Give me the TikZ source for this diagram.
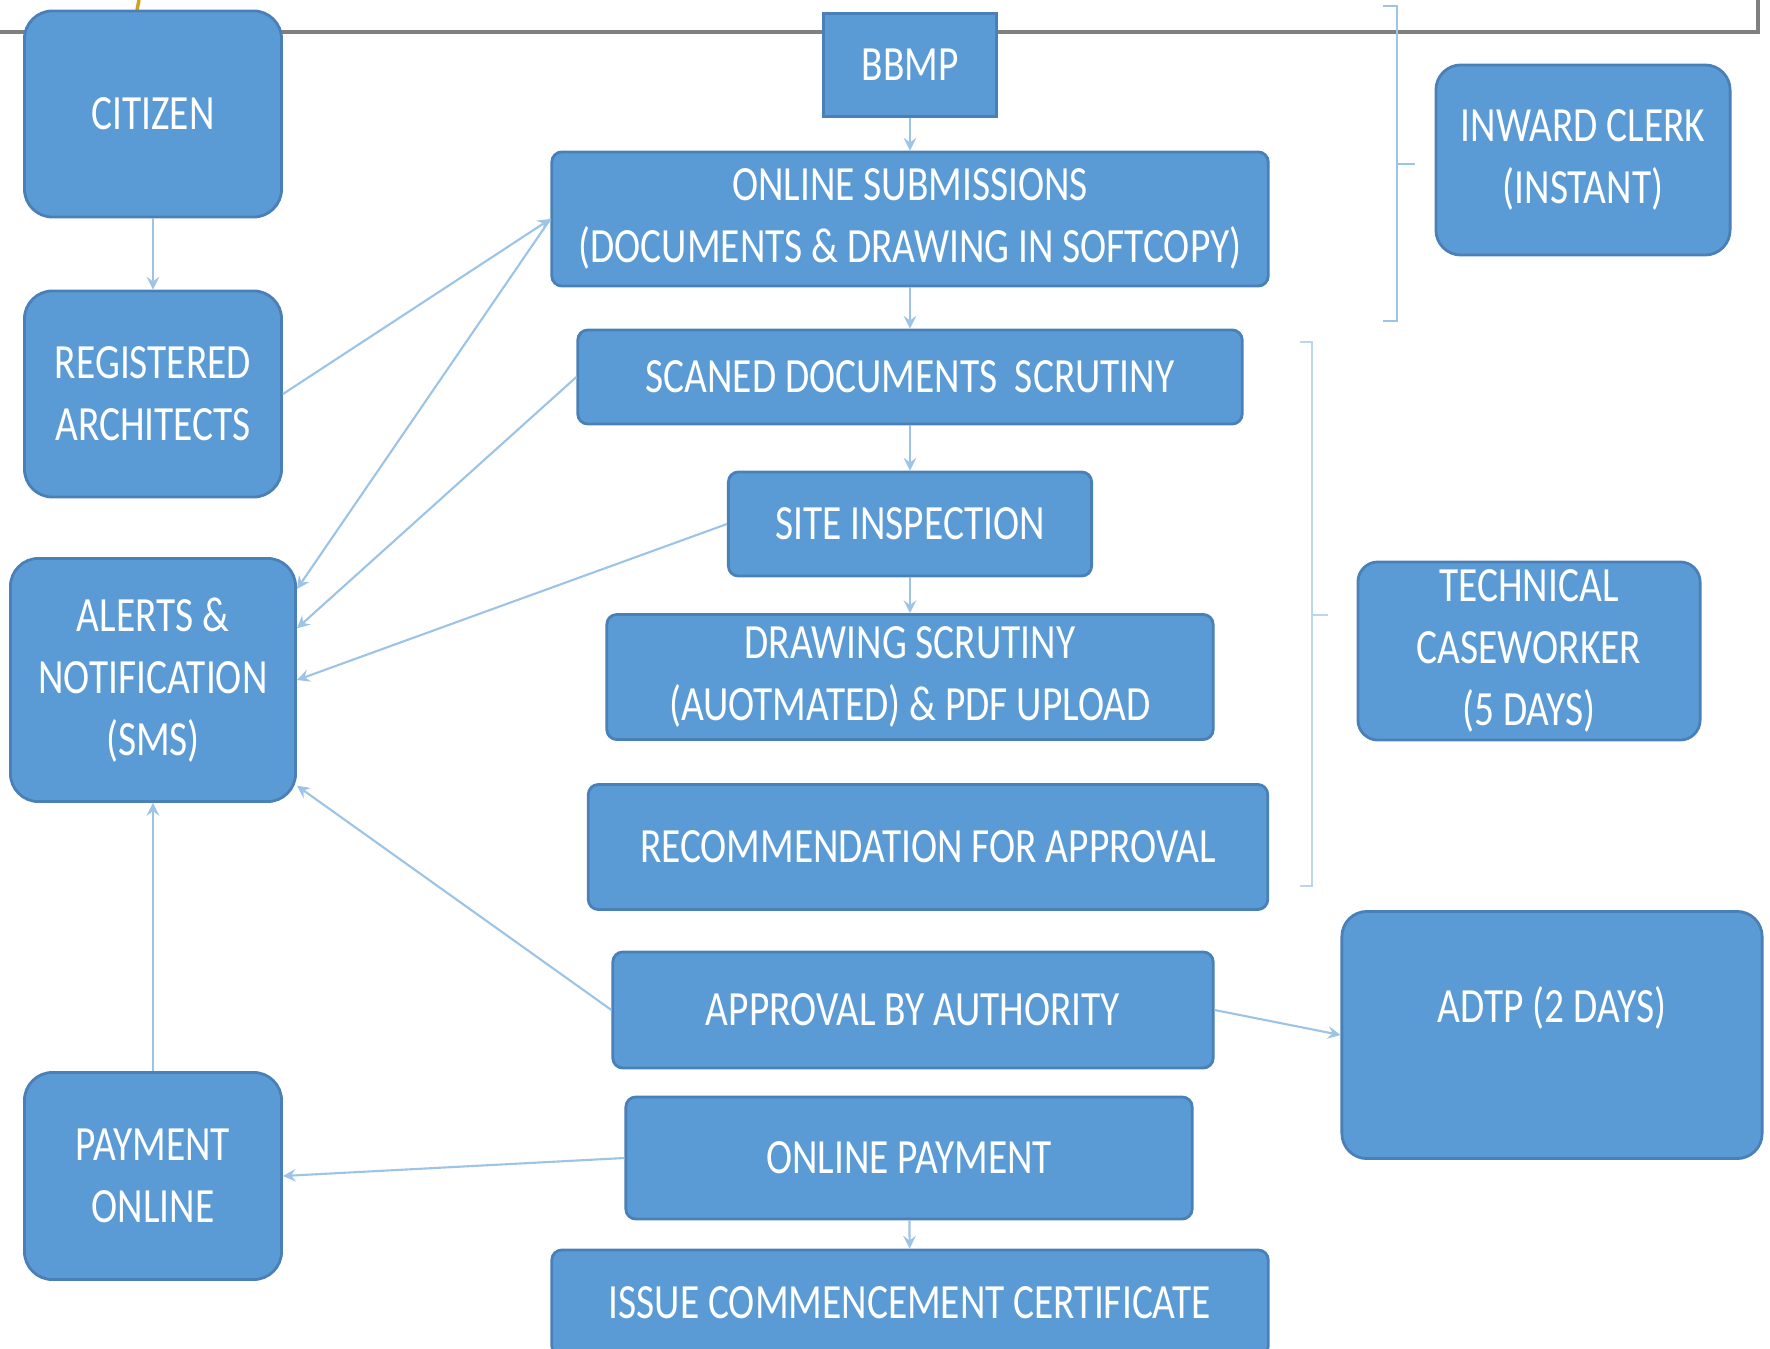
\documentclass[tikz,border=0pt]{standalone}
\usepackage{fontspec}
\usepackage{tikz}
\usetikzlibrary{arrows,shapes,calc}
\newfontfamily\boxfont[FakeStretch=0.8]{Carlito}
\definecolor{boxblue}{HTML}{5B9BD5}
\definecolor{boxline}{HTML}{4A80B8}
\definecolor{linkblue}{HTML}{9DC3E6}
\definecolor{framegray}{HTML}{7F7F7F}
\definecolor{tickgold}{HTML}{D4A020}
\tikzstyle{blk}=[rectangle,fill=boxblue,draw=boxline,line width=0.8pt,text=white,
                align=center,inner sep=0,font=\boxfont\fontsize{14}{17.6}\selectfont]
\tikzstyle{side}=[blk,rounded corners=0.28cm]
\tikzstyle{step box}=[blk,rounded corners=0.1cm]
\tikzstyle{lnk}=[draw=linkblue,line width=0.6pt,->,>=stealth]
\tikzstyle{brace}=[draw=linkblue,line width=0.7pt]

\begin{document}
\begin{tikzpicture}[x=0.01cm,y=-0.01cm]
\useasboundingbox (0,0) rectangle (1770,1349);
\draw[framegray,line width=1pt](0,32)--(1758,32)--(1758,0);
\draw[tickgold,line width=1pt](139,0)--(137,10);

\node[side,minimum width=2.57cm,minimum height=2.06cm] (citizen) at (153,114) {CITIZEN};
\node[side,minimum width=2.57cm,minimum height=2.06cm] (regarch) at (153,394) {REGISTERED\\ARCHITECTS};
\node[side,minimum width=2.85cm,minimum height=2.43cm] (alerts) at (153,680) {ALERTS \&\\NOTIFICATION\\(SMS)};
\node[side,minimum width=2.57cm,minimum height=2.07cm] (payonl) at (153,1176) {PAYMENT\\ONLINE};

\node[blk,minimum width=1.73cm,minimum height=1.03cm] (bbmp) at (910,65) {BBMP};
\node[step box,minimum width=7.16cm,minimum height=1.34cm] (onsub) at (910,219) {ONLINE SUBMISSIONS\\(DOCUMENTS \& DRAWING IN SOFTCOPY)};
\node[step box,minimum width=6.64cm,minimum height=0.94cm] (scan) at (910,377) {SCANED DOCUMENTS \ SCRUTINY};
\node[step box,minimum width=3.63cm,minimum height=1.04cm] (site) at (910,524) {SITE INSPECTION};
\node[step box,minimum width=6.06cm,minimum height=1.25cm] (drw) at (910,677) {DRAWING SCRUTINY\\(AUOTMATED) \& PDF UPLOAD};
\node[step box,minimum width=6.79cm,minimum height=1.25cm] (recom) at (928,847) {RECOMMENDATION FOR APPROVAL};
\node[step box,minimum width=6.00cm,minimum height=1.16cm] (appr) at (913,1010) {APPROVAL BY AUTHORITY};
\node[step box,minimum width=5.66cm,minimum height=1.22cm] (onpay) at (909,1158) {ONLINE PAYMENT};
\node[step box,minimum width=7.16cm,minimum height=1.06cm] (issue) at (910,1303) {ISSUE COMMENCEMENT CERTIFICATE};

\node[side,rounded corners=0.25cm,minimum width=2.94cm,minimum height=1.90cm] (inward) at (1583,160) {INWARD CLERK\\(INSTANT)};
\node[side,rounded corners=0.2cm,minimum width=3.42cm,minimum height=1.78cm] (tech) at (1529,651) {TECHNICAL\\CASEWORKER\\(5 DAYS)};
\node[side,rounded corners=0.25cm,minimum width=4.20cm,minimum height=2.47cm] (adtp) at (1552,1035) {ADTP (2 DAYS)\\\mbox{}};

\draw[brace](1383,6)--(1397,6)--(1397,321)--(1383,321);
\draw[brace](1397,164)--(1415,164);
\draw[brace,draw=linkblue!70](1300,342)--(1312,342)--(1312,886)--(1300,886);
\draw[brace,draw=linkblue!70](1312,615)--(1328,615);

\draw[lnk](bbmp)--(onsub);
\draw[lnk](onsub)--(scan);
\draw[lnk](scan)--(site);
\draw[lnk](site)--(drw);
\draw[lnk](onpay)--(issue);
\draw[lnk](citizen)--(regarch);
\draw[lnk](regarch.east)--(onsub.west);
\draw[lnk](onsub.west)--($(alerts.north east)!0.13!(alerts.south east)$);
\draw[lnk](scan.west)--($(alerts.north east)!0.29!(alerts.south east)$);
\draw[lnk](site.west)--(alerts.east);
\draw[lnk](appr.west)--($(alerts.north east)!0.93!(alerts.south east)$);
\draw[lnk](payonl)--(alerts);
\draw[lnk](onpay.west)--(payonl.east);
\draw[lnk](appr.east)--(adtp.west);
\end{tikzpicture}
\end{document}
